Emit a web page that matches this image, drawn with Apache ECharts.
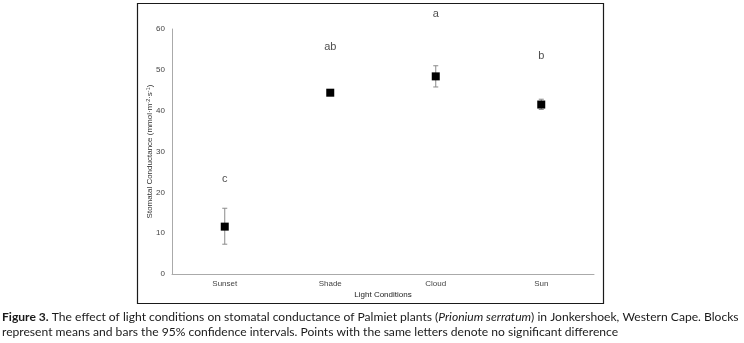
<!DOCTYPE html>
<html><head><meta charset="utf-8">
<script src="https://cdn.jsdelivr.net/npm/echarts@6/dist/echarts.min.js"></script>
<style>html,body{margin:0;padding:0;background:#fff}#c{width:744px;height:343px}</style>
</head><body><div id="c"></div>
<script>
const categories = ['Sunset', 'Shade', 'Cloud', 'Sun'];
const means = [11.6, 44.4, 48.4, 41.5];
const ciLow = [7.3, 44.0, 45.8, 40.3];
const ciHigh = [16.1, 44.8, 51.0, 42.8];
const letters = ['c', 'ab', 'a', 'b'];
const letterY = [23.2, 55.5, 63.6, 53.4];
const yTicks = [0, 10, 20, 30, 40, 50, 60];

const captionFont = 'Lato, "Open Sans", "Noto Sans", sans-serif';
// fit caption line 1 to the width used in the reference
function fitSize() {
  const cv = document.createElement('canvas').getContext('2d');
  const target = 739;
  let fs = 12;
  for (let s = 14; s >= 9; s -= 0.1) {
    cv.font = 'bold ' + s + 'px ' + captionFont;
    let w = cv.measureText('Figure 3.').width;
    cv.font = s + 'px ' + captionFont;
    w += cv.measureText(' The effect of light conditions on stomatal conductance of Palmiet plants (').width;
    cv.font = 'italic ' + s + 'px ' + captionFont;
    w += cv.measureText('Prionium serratum').width;
    cv.font = s + 'px ' + captionFont;
    w += cv.measureText(') in Jonkershoek, Western Cape. Blocks').width;
    if (w <= target) { fs = s; break; }
  }
  return fs;
}
const capFs = fitSize();

const chart = echarts.init(document.getElementById('c'), null, {renderer: 'canvas'});
const ff = 'Arial, "Liberation Sans", sans-serif';
const txt = {fontFamily: ff};
chart.setOption({
  animation: false,
  backgroundColor: '#fff',
  grid: {left: 172, right: 150, top: 29, bottom: 69},
  xAxis: {
    type: 'category', data: categories, boundaryGap: true,
    name: 'Light Conditions', nameLocation: 'middle', nameGap: 17, nameMoveOverlap: false,
    nameTextStyle: Object.assign({fontSize: 8, color: '#222'}, txt),
    axisLine: {lineStyle: {color: '#aaa', width: 1}},
    axisTick: {show: false},
    axisLabel: Object.assign({fontSize: 8, color: '#444', margin: 6}, txt),
    splitLine: {show: false}
  },
  yAxis: {
    type: 'value', min: yTicks[0], max: yTicks[yTicks.length - 1], interval: 10,
    name: 'Stomatal Conductance (mmol·m{s|-2}·s{s|-1})', nameLocation: 'middle', nameGap: 18, nameMoveOverlap: false,
    nameTextStyle: {fontSize: 8, color: '#333', fontFamily: ff, verticalAlign: 'bottom',
      rich: {s: {fontSize: 5.5, color: '#333', fontFamily: ff, verticalAlign: 'top', padding: [0, 0, 3, 0]}}},
    axisLine: {show: true, lineStyle: {color: '#aaa', width: 1}},
    axisTick: {show: false},
    axisLabel: Object.assign({fontSize: 8, color: '#444', margin: 7}, txt),
    splitLine: {show: false}
  },
  graphic: [
    {type: 'rect', shape: {x: 137.5, y: 3.5, width: 466, height: 300}, style: {fill: 'none', stroke: '#1a1a1a', lineWidth: 1.2}, z: 0},
    {type: 'text', left: 2, top: 310, style: {
      text: '{b|Figure 3.} The effect of light conditions on stomatal conductance of Palmiet plants ({i|Prionium serratum}) in Jonkershoek, Western Cape. Blocks\nrepresent means and bars the 95% confidence intervals. Points with the same letters denote no significant difference',
      fontFamily: captionFont, fontSize: capFs, fill: '#1a1a1a', lineHeight: 14.5,
      rich: {
        b: {fontWeight: 'bold', fontFamily: captionFont, fontSize: capFs, fill: '#1a1a1a', lineHeight: 14.5},
        i: {fontStyle: 'italic', fontFamily: captionFont, fontSize: capFs, fill: '#1a1a1a', lineHeight: 14.5}
      }
    }}
  ],
  series: [
    {
      type: 'custom', z: 2,
      data: categories.map((c, i) => [i, ciLow[i], ciHigh[i]]),
      renderItem: function (params, api) {
        const lo = api.coord([api.value(0), api.value(1)]);
        const hi = api.coord([api.value(0), api.value(2)]);
        const x = lo[0], cw = 2.5;
        const st = {stroke: '#8a8a8a', lineWidth: 1};
        return {type: 'group', children: [
          {type: 'line', shape: {x1: x, y1: lo[1], x2: x, y2: hi[1]}, style: st},
          {type: 'line', shape: {x1: x - cw, y1: lo[1], x2: x + cw, y2: lo[1]}, style: st},
          {type: 'line', shape: {x1: x - cw, y1: hi[1], x2: x + cw, y2: hi[1]}, style: st}
        ]};
      }
    },
    {
      type: 'scatter', z: 3, symbol: 'rect', symbolSize: 8,
      itemStyle: {color: '#000', opacity: 1},
      data: means.map((v, i) => [i, v])
    },
    {
      type: 'scatter', z: 4, symbolSize: 0, clip: false, silent: true,
      data: letters.map((l, i) => ({value: [i, letterY[i]], label: {formatter: l}})),
      label: Object.assign({show: true, position: 'inside', fontSize: 11, color: '#222'}, txt)
    }
  ]
});
</script></body></html>
